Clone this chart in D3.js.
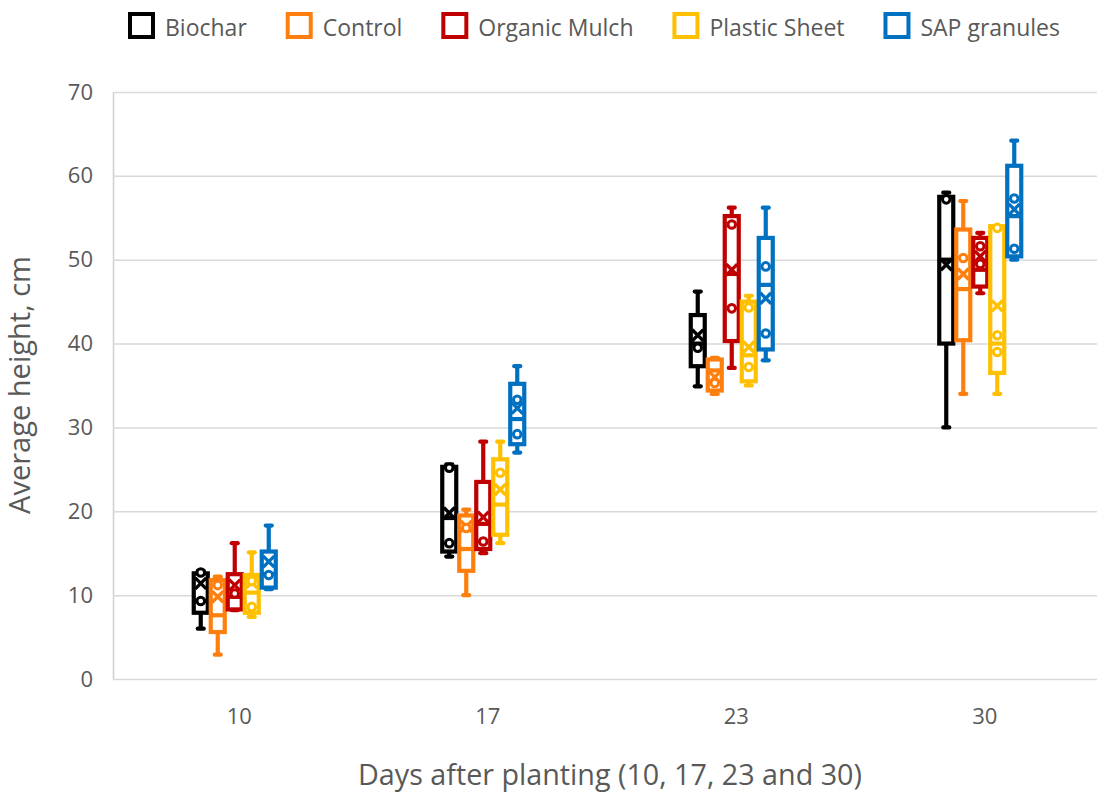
<!DOCTYPE html>
<html><head><meta charset="utf-8">
<script src="https://cdn.jsdelivr.net/npm/d3@7"></script>
<style>body{margin:0;background:#fff}</style></head>
<body>
<svg id="chart" width="1097" height="798"></svg>
<script>
const days = ["10", "17", "23", "30"];
const series = ["Biochar", "Control", "Organic Mulch", "Plastic Sheet", "SAP granules"];
const colors = ["#000000", "#FF7F0E", "#C00000", "#FFC000", "#0070C0"];
const yTicks = [0, 10, 20, 30, 40, 50, 60, 70];
const xTitle = "Days after planting (10, 17, 23 and 30)";
const yTitle = "Average height, cm";

// per series (rows) x per day (columns)
const minVals = [
  [6.0, 14.6, 34.9, 30.0],
  [2.9, 10.0, 34.0, 34.0],
  [8.2, 15.0, 37.1, 46.0],
  [7.4, 16.2, 35.0, 34.0],
  [10.7, 27.0, 38.0, 50.0]
];
const q1Vals = [
  [7.9, 15.2, 37.3, 40.0],
  [5.6, 12.9, 34.4, 40.4],
  [8.3, 15.5, 40.3, 46.8],
  [7.9, 17.2, 35.5, 36.5],
  [10.9, 28.0, 39.3, 50.4]
];
const medianVals = [
  [9.3, 19.2, 40.0, 50.0],
  [7.6, 15.5, 36.8, 46.5],
  [9.8, 18.5, 48.3, 48.8],
  [10.3, 20.8, 38.6, 40.0],
  [12.5, 31.0, 47.0, 55.2]
];
const q3Vals = [
  [12.6, 25.3, 43.4, 57.5],
  [11.8, 19.5, 38.1, 53.6],
  [12.5, 23.5, 55.2, 52.6],
  [12.4, 26.2, 45.0, 54.0],
  [15.2, 35.2, 52.6, 61.2]
];
const maxVals = [
  [12.9, 25.6, 46.2, 58.0],
  [12.2, 20.2, 38.3, 57.0],
  [16.2, 28.3, 56.2, 53.2],
  [15.1, 28.3, 45.7, 54.0],
  [18.3, 37.3, 56.2, 64.2]
];
const meanVals = [
  [11.4, 19.8, 41.0, 49.4],
  [9.8, 18.2, 36.0, 48.3],
  [11.2, 19.3, 48.8, 50.4],
  [11.5, 22.6, 39.6, 44.5],
  [14.0, 32.3, 45.4, 56.0]
];
const pointVals = [
  [[12.7, 9.3], [25.2, 16.2], [39.5], [57.2]],
  [[11.2], [18.0], [35.3], [50.2]],
  [[10.2], [16.4], [54.2, 44.2], [51.6, 49.5]],
  [[11.7, 8.6], [24.6], [44.3, 37.2], [53.8, 41.0, 39.0]],
  [[12.4], [33.3, 29.2], [49.2, 41.2], [57.3, 51.3]]
];

const mLeft = 113, mRight = 1097, mTop = 92, mBottom = 679;
const svg = d3.select("#chart");
const font = "'Open Sans', 'Noto Sans', sans-serif";
const textColor = "#595959";

const y = d3.scaleLinear().domain([0, 70]).range([mBottom, mTop]);
const x = d3.scaleBand().domain(days).range([115, 1109]).padding(0);
const sx = d3.scaleBand().domain(series).range([-47, 38]).padding(0);

// gridlines + y axis
const yAxis = svg.append("g").attr("transform", `translate(${mLeft},0)`)
  .call(d3.axisLeft(y).tickValues(yTicks).tickSize(-(mRight - mLeft)).tickSizeOuter(0).tickPadding(20));
yAxis.select(".domain").attr("stroke", "#d0d0d0").attr("stroke-width", 1.5);
yAxis.selectAll(".tick line").attr("stroke", "#d9d9d9").attr("stroke-width", 1.5);
yAxis.selectAll(".tick text").attr("fill", textColor).style("font-family", font).style("font-size", "22px");

const xAxis = svg.append("g").attr("transform", `translate(0,${mBottom})`)
  .call(d3.axisBottom(x).tickSize(0).tickPadding(29));
xAxis.select(".domain").remove();
xAxis.selectAll(".tick text").attr("fill", textColor).style("font-family", font).style("font-size", "22px");

function fitText(sel, target) {
  const w = sel.node().getComputedTextLength();
  const fs = parseFloat(sel.style("font-size"));
  sel.style("font-size", (fs * target / w).toFixed(2) + "px");
}
const xt = svg.append("text").attr("x", 610).attr("y", 785).attr("text-anchor", "middle")
  .attr("fill", textColor).style("font-family", font).style("font-size", "22px").text(xTitle);
fitText(xt, 504);
const yt = svg.append("text").attr("transform", "translate(30,385) rotate(-90)").attr("text-anchor", "middle")
  .attr("fill", textColor).style("font-family", font).style("font-size", "22px").text(yTitle);
fitText(yt, 258);

// boxes
const sw = 4.2, bw = 14;
const plot = svg.append("g");
series.forEach((s, i) => {
  const g = plot.append("g");
  const c = colors[i];
  days.forEach((d, j) => {
    const cx = x(d) + x.bandwidth() / 2 + sx(s) + sx.bandwidth() / 2;
    // whiskers
    g.append("line").attr("x1", cx).attr("x2", cx).attr("y1", y(q3Vals[i][j])).attr("y2", y(maxVals[i][j]))
      .attr("stroke", c).attr("stroke-width", sw);
    g.append("line").attr("x1", cx).attr("x2", cx).attr("y1", y(q1Vals[i][j])).attr("y2", y(minVals[i][j]))
      .attr("stroke", c).attr("stroke-width", sw);
    [maxVals[i][j], minVals[i][j]].forEach(v => {
      g.append("line").attr("x1", cx - 3).attr("x2", cx + 3).attr("y1", y(v)).attr("y2", y(v))
        .attr("stroke", c).attr("stroke-width", sw).attr("stroke-linecap", "round");
    });
    // box
    g.append("rect").attr("x", cx - bw / 2).attr("width", bw)
      .attr("y", y(q3Vals[i][j])).attr("height", y(q1Vals[i][j]) - y(q3Vals[i][j]))
      .attr("fill", "#fff").attr("stroke", c).attr("stroke-width", sw);
    // median
    g.append("line").attr("x1", cx - bw / 2).attr("x2", cx + bw / 2)
      .attr("y1", y(medianVals[i][j])).attr("y2", y(medianVals[i][j]))
      .attr("stroke", c).attr("stroke-width", sw);
    // mean X
    const my = y(meanVals[i][j]), r = 5.5;
    g.append("path").attr("d", `M${cx - r},${my - r}L${cx + r},${my + r}M${cx - r},${my + r}L${cx + r},${my - r}`)
      .attr("stroke", c).attr("stroke-width", 3.4).attr("fill", "none");
    // inner points
    pointVals[i][j].forEach(v => {
      g.append("circle").attr("cx", cx).attr("cy", y(v)).attr("r", 3.8)
        .attr("fill", "#fff").attr("stroke", c).attr("stroke-width", 3);
    });
  });
});

// legend
const leg = svg.append("g");
const items = series.map((s, i) => {
  const t = leg.append("text").attr("y", 36).attr("fill", textColor)
    .style("font-family", font).style("font-size", "23px").text(s);
  return { t, w: t.node().getComputedTextLength(), i };
});
const sq = 23, gapIn = 14;
const total = items.reduce((a, it) => a + sq + gapIn + it.w, 0);
const gap = (1060 - 128 - total) / (items.length - 1);
let px = 128;
items.forEach(it => {
  leg.append("rect").attr("x", px + 2).attr("y", 14).attr("width", sq).attr("height", sq)
    .attr("fill", "#fff").attr("stroke", colors[it.i]).attr("stroke-width", 4);
  it.t.attr("x", px + sq + gapIn);
  px += sq + gapIn + it.w + gap;
});
</script>
</body></html>
